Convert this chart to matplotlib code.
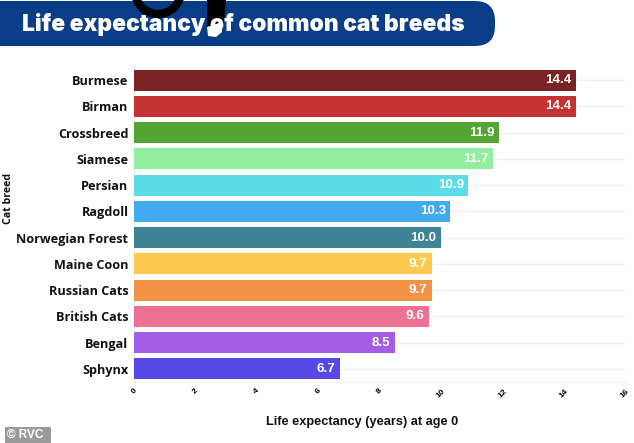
#!/usr/bin/env python3
"""Life expectancy of common cat breeds, horizontal bars with a title banner."""

import matplotlib

matplotlib.use("Agg")
import matplotlib.pyplot as plt
from matplotlib.patches import Circle, FancyBboxPatch, Polygon, Rectangle

BREEDS = ["Burmese", "Birman", "Crossbreed", "Siamese", "Persian", "Ragdoll",
          "Norwegian Forest", "Maine Coon", "Russian Cats", "British Cats", "Bengal", "Sphynx"]
YEARS = [14.4, 14.4, 11.9, 11.7, 10.9, 10.3, 10.0, 9.7, 9.7, 9.6, 8.5, 6.7]
COLOURS = ["#7a2224", "#c43232", "#52a532", "#90ee9e", "#5cdce8", "#42aaf0",
           "#3e8496", "#fdc94f", "#f39145", "#ee7092", "#a25ce6", "#5747e6"]
XTICKS = [0, 2, 4, 6, 8, 10, 12, 14, 16]

W, H = 634, 443
LABEL_FONT = "Open Sans"

fig = plt.figure(figsize=(W / 100, H / 100), dpi=100, facecolor="white")

# plot area, pixel positions from the reference
left, right, top, bottom = 134, 625, 67, 382
ax = fig.add_axes([left / W, 1 - bottom / H, (right - left) / W, (bottom - top) / H])
ax.barh(BREEDS, YEARS, height=0.8, color=COLOURS, edgecolor="none", zorder=3)
ax.set_xlim(0, 16)
ax.set_ylim(len(BREEDS) - 0.5, -0.5)
ax.grid(True, axis="y", color="#efeff2", linewidth=1, zorder=0)
ax.grid(False, axis="x")
for side in ["top", "right"]:
    ax.spines[side].set_visible(False)
for side in ["left", "bottom"]:
    ax.spines[side].set_color("#eeeef0")
ax.set_xticks(XTICKS)
ax.set_xticklabels(XTICKS, rotation=45, ha="center", fontsize=6, fontweight="bold",
                   family="Liberation Sans")
ax.tick_params(axis="x", length=0, pad=4)
ax.tick_params(axis="y", length=0, pad=4)
for label in ax.get_yticklabels():
    label.set_fontproperties({"family": LABEL_FONT, "weight": "bold", "size": 9.1})
    label.set_color("#111111")
for i, value in enumerate(YEARS):
    ax.text(value - 0.14, i, f"{value:.1f}", ha="right", va="center", color="white",
            fontsize=9.6, fontweight="bold", family="Liberation Sans", zorder=4)

# overlay in pixel coordinates for banner, axis titles and credit
over = fig.add_axes([0, 0, 1, 1], facecolor="none")
over.set_xlim(0, W)
over.set_ylim(H, 0)
over.axis("off")
over.add_patch(FancyBboxPatch((-40, 1), 535, 45, boxstyle="round,pad=0,rounding_size=20",
                              facecolor="#0a3d87", edgecolor="none"))
over.text(22, 24, "Life expectancy of common cat breeds", color="white", fontsize=16.4,
          fontweight="black", family="Inter", va="center", ha="left")

# cat tail and leg hanging over the banner
over.add_patch(Circle((158, -9), 23, facecolor="none", edgecolor="black", linewidth=6))
over.add_patch(Polygon([(207, 0), (226, 0), (224, 24), (207, 28)], facecolor="black", edgecolor="none"))
over.add_patch(Polygon([(207, 27), (222, 22), (222, 32), (216, 37), (208, 36)],
                       facecolor="white", edgecolor="none"))

over.text(9, 198, "Cat breed", rotation=90, ha="center", va="center", color="#111111",
          fontproperties={"family": LABEL_FONT, "weight": "bold", "size": 7.6})
over.text(362, 422, "Life expectancy (years) at age 0", ha="center", va="center", fontsize=9.2,
          fontweight="bold", family="Liberation Sans", color="#111111")

over.add_patch(Rectangle((5, 427), 46, 16, facecolor="#9a9a9a", edgecolor="none"))
over.text(7, 435, "© RVC", color="white", fontsize=8.5, fontweight="bold",
          family="Liberation Sans", va="center", ha="left")

fig.savefig("out.png", dpi=100)
